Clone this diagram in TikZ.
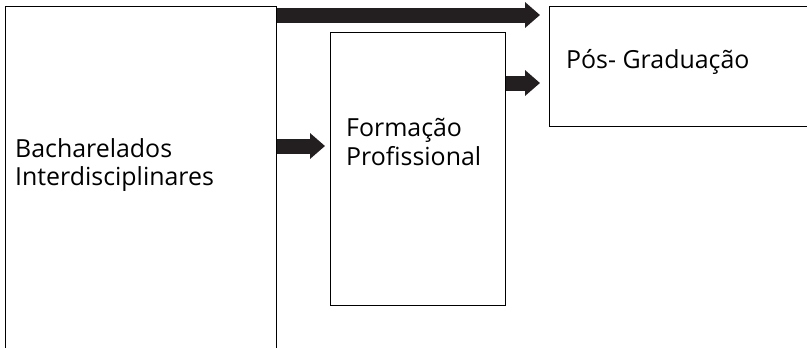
\documentclass[tikz,border=0pt]{standalone}
\usepackage{fontspec}
\setmainfont{Open Sans}
\usetikzlibrary{arrows.meta,positioning}
\definecolor{arrowgray}{HTML}{231F20}
\begin{document}
\begin{tikzpicture}[x=1bp,y=-1bp,
  box/.style={draw=black,line width=1bp,anchor=north west,inner sep=0pt},
  lbl/.style={align=left,inner sep=0pt,font=\fontsize{25}{29}\selectfont},
  fat/.style={draw=arrowgray,line width=15bp,-{Triangle[length=15bp,width=25bp]}}]
\useasboundingbox (0,0) rectangle (807,347);
% boxes
\node[box,minimum width=271bp,minimum height=354bp] (bi) at (5,6) {};
\node[box,minimum width=175bp,minimum height=273bp] (fp) at (330,32) {};
\node[box,minimum width=263bp,minimum height=120bp] (pg) at (549,6) {};
% texts
\node[lbl,anchor=west] (bitxt) at (15,165) {Bacharelados\\Interdisciplinares};
\node[lbl,anchor=west] (fptxt) at (346,142) {Formação\\Profissional};
\node[lbl,anchor=base west] (pgtxt) at (566,68) {Pós- Graduação};
% arrows
\coordinate (t1) at ([yshift=-9bp]bi.north east);
\coordinate (t2) at ([yshift=-51bp]fp.north east);
\coordinate (t3) at ([yshift=-114bp]fp.north west);
\draw[fat,shorten >=9bp] (t1) -- (t1 -| pg.west);
\draw[fat,shorten >=9bp] (t2) -- (t2 -| pg.west);
\draw[fat,shorten >=5bp] (t3 -| bi.east) -- (t3);
\end{tikzpicture}
\end{document}
